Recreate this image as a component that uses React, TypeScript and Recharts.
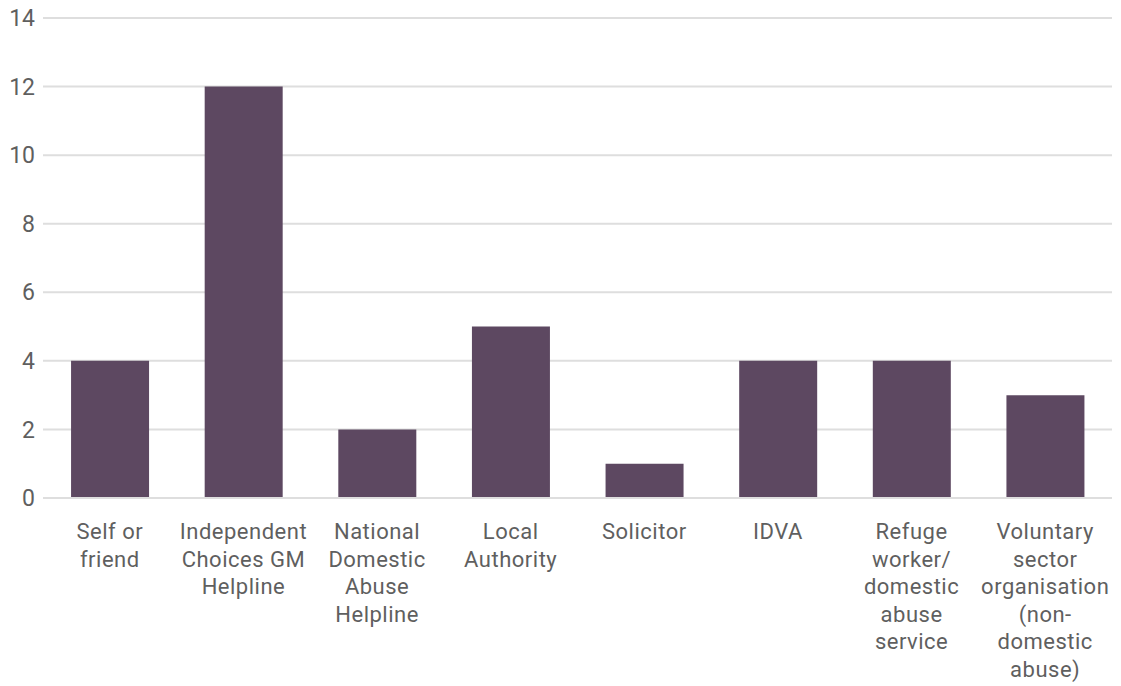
import { BarChart, Bar, XAxis, YAxis, CartesianGrid } from 'recharts';

const categories = [
  'Self or\nfriend',
  'Independent\nChoices GM\nHelpline',
  'National\nDomestic\nAbuse\nHelpline',
  'Local\nAuthority',
  'Solicitor',
  'IDVA',
  'Refuge\nworker/\ndomestic\nabuse\nservice',
  'Voluntary\nsector\norganisation\n(non-\ndomestic\nabuse)',
];
const counts = [4, 12, 2, 5, 1, 4, 4, 3];
const yTicks = [0, 2, 4, 6, 8, 10, 12, 14];

const data = categories.map((name, i) => ({ name, value: counts[i] }));

const FONT = 'Roboto, "DejaVu Sans", sans-serif';
const TEXT = '#5f5f5f';

function CategoryTick({ x, y, payload }: any) {
  const lines = String(payload.value).split('\n');
  return (
    <text
      x={x}
      y={y}
      textAnchor="middle"
      fill={TEXT}
      fontSize={22}
      letterSpacing={0.5}
      fontFamily={FONT}
    >
      {lines.map((l, i) => (
        <tspan key={i} x={x} y={y + 33 + i * 27.5}>
          {l}
        </tspan>
      ))}
    </text>
  );
}

export default function App() {
  return (
    <div style={{ position: 'absolute', left: 0, top: 0, width: 1121, height: 686, background: '#fff' }}>
      <BarChart
        width={1121}
        height={686}
        data={data}
        margin={{ top: 18, right: 9, bottom: 0, left: 0 }}
        barCategoryGap="21%"
      >
        <CartesianGrid vertical={false} stroke="#dedede" strokeWidth={2} />
        <XAxis
          dataKey="name"
          interval={0}
          height={188}
          tickLine={false}
          axisLine={{ stroke: '#dedede', strokeWidth: 2 }}
          tick={<CategoryTick />}
        />
        <YAxis
          width={43}
          domain={[0, 14]}
          ticks={yTicks}
          axisLine={false}
          tickLine={false}
          tick={{ fill: TEXT, fontSize: 23, fontFamily: FONT }}
        />
        <Bar dataKey="value" fill="#5d4861" isAnimationActive={false} />
      </BarChart>
    </div>
  );
}
